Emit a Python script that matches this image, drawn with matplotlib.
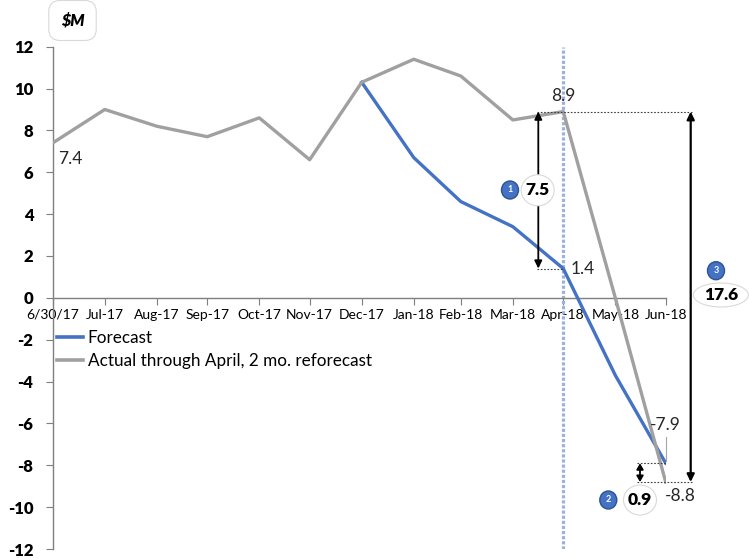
import matplotlib
matplotlib.use("Agg")
import matplotlib.pyplot as plt
import matplotlib.dates as mdates
from matplotlib.patches import Ellipse
from matplotlib.lines import Line2D
import pandas as pd

# ---------------- data ----------------
month_ends = ["2017-06-30", "2017-07-31", "2017-08-31", "2017-09-30", "2017-10-31",
              "2017-11-30", "2017-12-31", "2018-01-31", "2018-02-28", "2018-03-31",
              "2018-04-30", "2018-05-31", "2018-06-30"]
tick_labels = ["6/30/17", "Jul-17", "Aug-17", "Sep-17", "Oct-17", "Nov-17", "Dec-17",
               "Jan-18", "Feb-18", "Mar-18", "Apr-18", "May-18", "Jun-18"]
actual = [7.4, 9.0, 8.2, 7.7, 8.6, 6.6, 10.3, 11.4, 10.6, 8.5, 8.9, 0.0, -8.8]
forecast_dates = month_ends[6:]
forecast = [10.3, 6.7, 4.6, 3.4, 1.4, -3.7, -7.9]
series_names = ["Forecast", "Actual through April, 2 mo. reforecast"]
gap_values = ["7.5", "0.9", "17.6"]
badge_numbers = ["1", "2", "3"]
y_ticks = list(range(-12, 13, 2))

BLUE = "#4472C4"
GRAY = "#A0A0A0"

plt.rcParams["font.family"] = ["Lato", "DejaVu Sans"]

W, H = 749, 558
fig = plt.figure(figsize=(W / 100, H / 100), dpi=100)

# axes placement (pixels from reference)
LPX, RPX, TPX, BPX = 52.7, 665.7, 46.7, 549.0
ax = fig.add_axes([LPX / W, 1 - BPX / H, (RPX - LPX) / W, (BPX - TPX) / H])

xa = mdates.date2num(pd.to_datetime(month_ends).to_pydatetime())
xf = mdates.date2num(pd.to_datetime(forecast_dates).to_pydatetime())

PXD = (RPX - LPX) / (xa[-1] - xa[0])   # px per day
PXY = (BPX - TPX) / 24.0              # px per unit


def px2x(px):
    return xa[0] + (px - LPX) / PXD


def px2y(py):
    return (TPX + BPX) / 2 / PXY - py / PXY


ax.plot(xf, forecast, color=BLUE, lw=2.4, solid_joinstyle="round", zorder=3)
ax.plot(xa, actual, color=GRAY, lw=2.4, solid_joinstyle="round", zorder=4)

ax.set_xlim(xa[0], xa[-1])
ax.set_ylim(-12, 12)
ax.set_yticks(y_ticks)
ax.set_yticklabels([str(v) for v in y_ticks], fontsize=12, fontweight="heavy")
ax.set_xticks(xa)
ax.set_xticklabels(tick_labels, fontsize=8, fontweight="bold")
for s in ["top", "right"]:
    ax.spines[s].set_visible(False)
ax.spines["bottom"].set_position(("data", 0))
for s in ["left", "bottom"]:
    ax.spines[s].set_color("#7F7F7F")
    ax.spines[s].set_linewidth(1.0)
ax.tick_params(axis="y", direction="out", length=5, color="#7F7F7F", pad=9)
ax.tick_params(axis="x", direction="out", length=5, color="#7F7F7F", pad=3)

# vertical dotted line at April
ax.axvline(xa[10], color="#9DB2D8", lw=2.3, linestyle=(0, (1.0, 0.6)),
           dash_capstyle="butt", zorder=2)

# dotted guide lines
dkw = dict(color="#404040", lw=0.8, linestyle=(0, (1.5, 1.5)), zorder=5, clip_on=False)
ax.plot([px2x(536.7), px2x(692)], [actual[10], actual[10]], **dkw)
ax.plot([px2x(536.7), xa[10]], [forecast[4], forecast[4]], **dkw)
ax.plot([px2x(637.3), xa[12]], [forecast[-1], forecast[-1]], **dkw)
ax.plot([px2x(637.3), px2x(692)], [actual[-1], actual[-1]], **dkw)

# arrows
def darrow(xpx, y1, y2, lw=1.3, hl=0.45, hw=0.22):
    ax.annotate("", xy=(px2x(xpx), y1), xytext=(px2x(xpx), y2),
                arrowprops=dict(arrowstyle=f"<|-|>,head_length={hl},head_width={hw}",
                                lw=lw, color="black", shrinkA=0, shrinkB=0),
                annotation_clip=False, zorder=6)

darrow(538.3, actual[10], forecast[4])
darrow(690.7, actual[10], actual[-1], lw=1.6)
darrow(640.0, forecast[-1], actual[-1], hl=0.35, hw=0.2)

# data labels
def dlabel(txt, x, y, dxpx, dypx):
    ax.annotate(txt, xy=(x, y), xytext=(dxpx * 0.72, -dypx * 0.72),
                textcoords="offset points", ha="center", va="center",
                fontsize=12.5, color="#262626", zorder=8, annotation_clip=False)

dlabel(f"{actual[0]:.1f}", xa[0], actual[0], 18, 16)
dlabel(f"{actual[10]:.1f}", xa[10], actual[10], 0, -16)
dlabel(f"{forecast[4]:.1f}", xa[10], forecast[4], 19, 0)
dlabel(f"{forecast[-1]:.1f}", xa[12], forecast[-1], 0, -38)
dlabel(f"{actual[-1]:.1f}", xa[12], actual[-1], 15, 14)
ax.plot([xa[12], xa[12]], [px2y(437), px2y(461)], color="#A6A6A6", lw=0.8,
        zorder=5, clip_on=False)

# badges and value bubbles
def badge(cx, cy, num):
    e = Ellipse((px2x(cx), px2y(cy)), width=17 / PXD, height=18 / PXY,
                facecolor=BLUE, edgecolor="#2F528F", lw=1.0, clip_on=False, zorder=10)
    ax.add_patch(e)
    ax.text(px2x(cx), px2y(cy), num, color="white", fontsize=6.5, fontweight="bold",
            ha="center", va="center", zorder=11, clip_on=False)


def bubble(cx, cy, val, wpx, hpx):
    e = Ellipse((px2x(cx), px2y(cy)), width=wpx / PXD, height=hpx / PXY,
                facecolor="white", edgecolor="#D9D9D9", lw=0.8, clip_on=False, zorder=10)
    ax.add_patch(e)
    ax.text(px2x(cx), px2y(cy), val, color="black", fontsize=12.5, fontweight="heavy",
            ha="center", va="center", zorder=11, clip_on=False)

badge(510, 190, badge_numbers[0])
bubble(537.7, 190.3, gap_values[0], 33, 31)
badge(608.3, 500, badge_numbers[1])
bubble(640, 500, gap_values[1], 33, 30)
badge(716, 270.7, badge_numbers[2])
bubble(720.8, 295, gap_values[2], 55, 24)

# legend
handles = [Line2D([], [], color=BLUE, lw=2.6), Line2D([], [], color=GRAY, lw=2.6)]
ax.legend(handles, series_names, loc="upper left",
          bbox_to_anchor=(57 / W, 1 - 330 / H), bbox_transform=fig.transFigure,
          frameon=False, fontsize=12.3, handlelength=1.55, handletextpad=0.25,
          labelspacing=0.4, borderpad=0, borderaxespad=0)

# $M box
fig.text(72.5 / W, 1 - 20.5 / H, "$M", fontsize=11.5, fontweight="heavy", style="italic",
         ha="center", va="center",
         bbox=dict(boxstyle="round,pad=0.75,rounding_size=0.7", facecolor="white",
                   edgecolor="#D9D9D9", lw=0.8))

fig.savefig("out.png", dpi=100)
